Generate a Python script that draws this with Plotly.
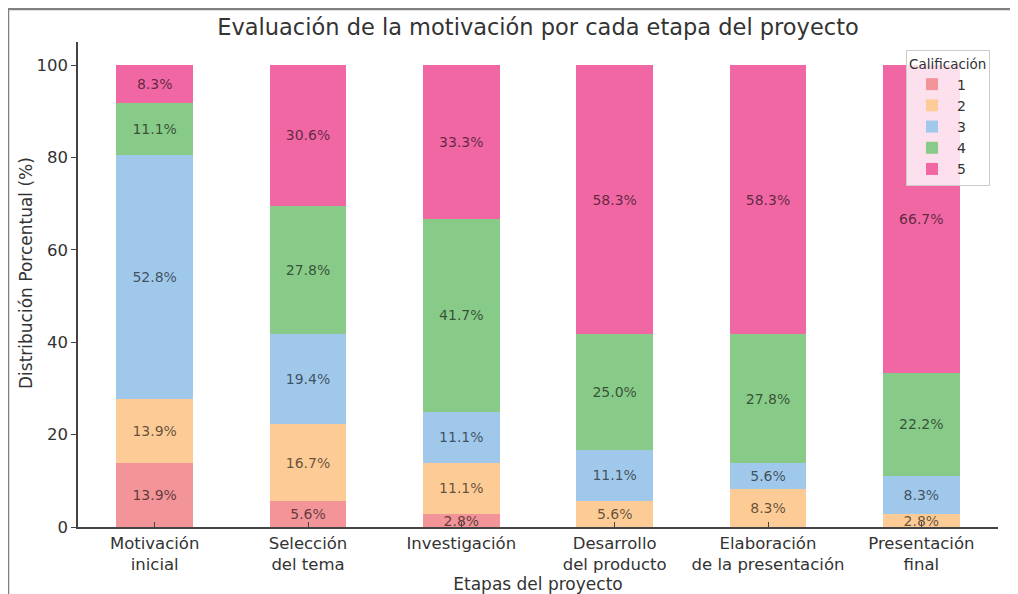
import plotly.graph_objects as go

# Etapas del proyecto y porcentaje de cada calificación (1 a 5)
etapas = [
    "Motivación<br>inicial",
    "Selección<br>del tema",
    "Investigación",
    "Desarrollo<br>del producto",
    "Elaboración<br>de la presentación",
    "Presentación<br>final",
]
calificaciones = ["1", "2", "3", "4", "5"]

pct_1 = [13.9, 5.6, 2.8, 0.0, 0.0, 0.0]
pct_2 = [13.9, 16.7, 11.1, 5.6, 8.3, 2.8]
pct_3 = [52.8, 19.4, 11.1, 11.1, 5.6, 8.3]
pct_4 = [11.1, 27.8, 41.7, 25.0, 27.8, 22.2]
pct_5 = [8.3, 30.6, 33.3, 58.3, 58.3, 66.7]

series = [pct_1, pct_2, pct_3, pct_4, pct_5]
colores = ["#F29498", "#FDCB96", "#A0C8EB", "#88CA88", "#F067A4"]

# the page body has an 8px margin, so the figure is drawn 8px in and 8px down
OFF = 8
W, H = 1018 - OFF, 594 - OFF
ml, mr, mt, mb = 78 - OFF, 20, 42 - OFF, 67
pw, ph = W - ml - mr, H - mt - mb

font_family = "DejaVu Sans"
text_color = "#333333"
axis_color = "#444444"

fig = go.Figure()

for nombre, valores, color in zip(calificaciones, series, colores):
    fig.add_trace(go.Bar(
        x=etapas,
        y=valores,
        name=nombre,
        marker=dict(color=color, line=dict(width=0)),
        text=[f"{v:.1f}%" if v > 0 else "" for v in valores],
        textposition="inside",
        insidetextanchor="middle",
        constraintext="none",
        textfont=dict(size=14, color="rgba(0,0,0,0.62)", family=font_family),
        hoverinfo="skip",
    ))


# reference pixel -> paper coordinates
def px_x(v):
    return (v - OFF - ml) / pw


def px_y(v):
    return (H - mb - (v - OFF)) / ph


fig.update_layout(
    width=W,
    height=H,
    barmode="stack",
    bargap=0.5,
    plot_bgcolor="white",
    paper_bgcolor="white",
    margin=dict(l=ml, r=mr, t=mt, b=mb, autoexpand=False),
    font=dict(family=font_family, color=text_color, size=16),
    title=dict(
        text="Evaluación de la motivación por cada etapa del proyecto",
        x=0.5, xref="paper", xanchor="center",
        y=1 - (27 - OFF) / H, yref="container", yanchor="middle",
        font=dict(size=22.5, color=text_color),
    ),
    legend=dict(
        title=dict(text="Calificación", side="top", font=dict(size=13.5)),
        traceorder="normal",
        x=px_x(990), xanchor="right",
        y=px_y(50), yanchor="top",
        bgcolor="rgba(255,255,255,0.8)",
        bordercolor="#cccccc",
        borderwidth=1,
        font=dict(size=14),
        itemwidth=40,
        tracegroupgap=0,
    ),
)

fig.update_xaxes(
    range=[-0.5, 5.5],
    automargin=False,
    showline=True, linecolor=axis_color, linewidth=1.5,
    ticks="inside", ticklen=5, tickcolor=axis_color,
    tickfont=dict(size=16.5),
    showgrid=False,
    title=dict(text="Etapas del proyecto", font=dict(size=17), standoff=0),
)
fig.update_yaxes(
    range=[0, 105],
    automargin=False,
    tickvals=[0, 20, 40, 60, 80, 100],
    showline=True, linecolor=axis_color, linewidth=1.5,
    ticks="outside", ticklen=5, tickcolor=axis_color,
    tickfont=dict(size=16.5),
    showgrid=False, zeroline=False,
)

# y axis title placed by hand so it sits where the reference has it
fig.add_annotation(
    text="Distribución Porcentual (%)",
    xref="paper", yref="paper",
    x=px_x(26), y=px_y(273),
    xanchor="center", yanchor="middle",
    textangle=-90, showarrow=False,
    font=dict(size=17, color=text_color),
)

# Marco gris del recorte: solo se ven el borde superior e izquierdo
fig.add_shape(type="rect", xref="paper", yref="paper",
              x0=px_x(8), x1=px_x(1040), y0=px_y(9), y1=px_y(620),
              line=dict(color="#808080", width=2.5),
              fillcolor="rgba(0,0,0,0)", layer="above")

fig.write_html("out.html")
